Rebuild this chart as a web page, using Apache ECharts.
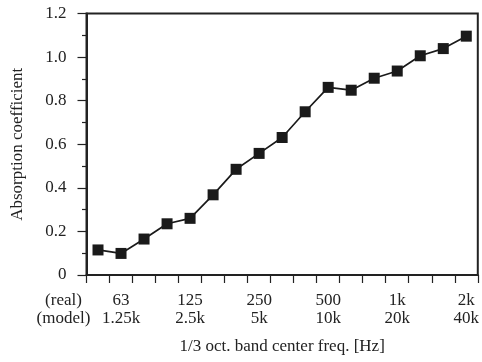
<!DOCTYPE html>
<html>
<head>
<meta charset="utf-8">
<script src="https://cdn.jsdelivr.net/npm/echarts@6/dist/echarts.min.js"></script>
<style>
  html, body { margin: 0; padding: 0; background: #fff; }
  #chart { width: 482px; height: 362px; }
</style>
</head>
<body>
<div id="chart"></div>
<script>
// 1/3 octave bands: real scale and 1/20 model scale
const realFreq = ["50", "63", "80", "100", "125", "160", "200", "250", "315", "400", "500", "630", "800", "1k", "1.25k", "1.6k", "2k"];
const modelFreq = ["1k", "1.25k", "1.6k", "2k", "2.5k", "3.15k", "4k", "5k", "6.3k", "8k", "10k", "12.5k", "16k", "20k", "25k", "31.5k", "40k"];
const absorption = [0.115, 0.099, 0.165, 0.235, 0.26, 0.368, 0.485, 0.558, 0.631, 0.749, 0.861, 0.848, 0.903, 0.936, 1.006, 1.039, 1.096];

const ink = "#222";
const fontFamily = "'Liberation Serif', 'DejaVu Serif', serif";
const fontSize = 17;

const chart = echarts.init(document.getElementById("chart"));

chart.setOption({
  animation: false,
  grid: {
    left: 86.5,
    right: 3,
    top: 13.5,
    bottom: 87,
    show: true,
    borderColor: ink,
    borderWidth: 2,
    backgroundColor: "transparent"
  },
  xAxis: {
    type: "category",
    data: realFreq,
    boundaryGap: true,
    name: "1/3 oct. band center freq. [Hz]",
    nameLocation: "middle",
    nameGap: 63,
    nameTextStyle: { color: ink, fontFamily, fontSize },
    axisLine: { lineStyle: { color: ink, width: 2 } },
    axisTick: { show: true, interval: 0, length: 8, lineStyle: { color: ink, width: 1.2 } },
    axisLabel: {
      interval: (idx) => idx % 3 === 1,
      margin: 17,
      color: ink,
      fontFamily,
      fontSize,
      lineHeight: 17.5,
      formatter: (val, idx) => realFreq[idx] + "\n" + modelFreq[idx]
    },
    splitLine: { show: false }
  },
  yAxis: {
    type: "value",
    min: 0,
    max: 1.2,
    interval: 0.2,
    name: "Absorption coefficient",
    nameLocation: "middle",
    nameGap: 60,
    nameTextStyle: { color: ink, fontFamily, fontSize },
    axisLine: { show: true, lineStyle: { color: ink, width: 2 } },
    axisTick: { show: true, length: 9, lineStyle: { color: ink, width: 1.2 } },
    minorTick: { show: true, splitNumber: 2, length: 4.5, lineStyle: { color: ink, width: 1.2 } },
    axisLabel: {
      margin: 20,
      color: ink,
      fontFamily,
      fontSize,
      formatter: (v) => (v === 0 ? "0" : v.toFixed(1))
    },
    splitLine: { show: false }
  },
  graphic: [
    {
      type: "text",
      x: 63.5,
      y: 292,
      style: {
        text: "(real)\n(model)",
        align: "center",
        verticalAlign: "top",
        fill: ink,
        fontFamily,
        fontSize,
        lineHeight: 17.5
      }
    }
  ],
  series: [
    {
      type: "line",
      data: absorption,
      symbol: "rect",
      symbolSize: 11,
      itemStyle: { color: "#1a1a1a" },
      lineStyle: { color: "#1a1a1a", width: 1.7 }
    }
  ]
});
</script>
</body>
</html>
